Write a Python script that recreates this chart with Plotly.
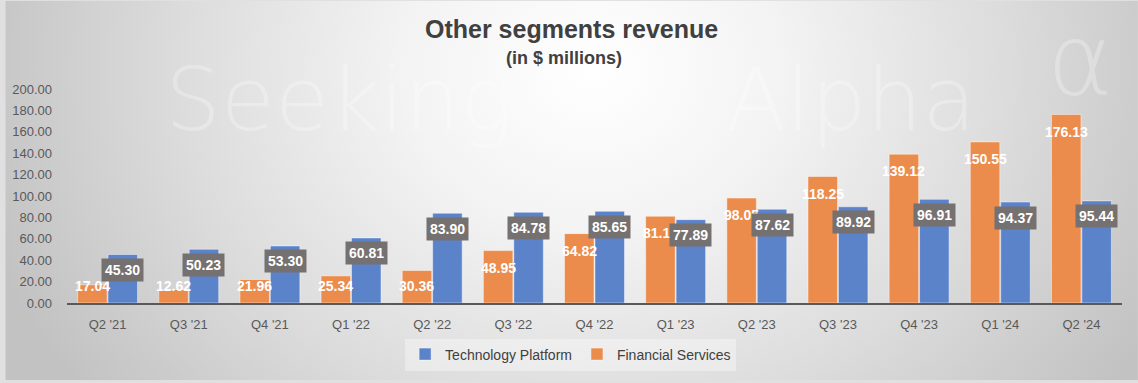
import base64
import plotly.graph_objects as go

quarters = ["Q2 '21", "Q3 '21", "Q4 '21", "Q1 '22", "Q2 '22", "Q3 '22", "Q4 '22",
            "Q1 '23", "Q2 '23", "Q3 '23", "Q4 '23", "Q1 '24", "Q2 '24"]
financial_services = [17.04, 12.62, 21.96, 25.34, 30.36, 48.95, 64.82,
                      81.10, 98.05, 118.25, 139.12, 150.55, 176.13]
technology_platform = [45.30, 50.23, 53.30, 60.81, 83.90, 84.78, 85.65,
                       77.89, 87.62, 89.92, 96.91, 94.37, 95.44]
y_ticks = [0, 20, 40, 60, 80, 100, 120, 140, 160, 180, 200]

ORANGE = "#EB8C4C"
BLUE = "#5B83CA"
W, H = 1138, 383
ML, MR, MT, MB = 62, 16, 89, 78
PW, PH = W - ML - MR, H - MT - MB
BARGAP, GROUPGAP = 0.25, 0.03
slot = (1 - BARGAP) / 2

svg = f'''<svg xmlns="http://www.w3.org/2000/svg" width="{W}" height="{H}" viewBox="0 0 {W} {H}">
<defs><radialGradient id="g" gradientUnits="userSpaceOnUse" cx="590" cy="70" r="640"
 gradientTransform="translate(590 70) scale(1 0.85) translate(-590 -70)">
<stop offset="0" stop-color="#ffffff"/><stop offset="0.3" stop-color="#f3f3f3"/>
<stop offset="0.65" stop-color="#dcdcdc"/><stop offset="1" stop-color="#c2c2c2"/></radialGradient></defs>
<rect width="{W}" height="{H}" fill="url(#g)"/></svg>'''
bg_src = "data:image/svg+xml;base64," + base64.b64encode(svg.encode()).decode()

fig = go.Figure()
fig.add_trace(go.Bar(name="Financial Services", x=quarters, y=financial_services,
                     marker=dict(color=ORANGE, line=dict(color="rgba(255,255,255,0.45)", width=1))))
fig.add_trace(go.Bar(name="Technology Platform", x=quarters, y=technology_platform,
                     marker=dict(color=BLUE, line=dict(color="rgba(255,255,255,0.45)", width=1))))


def px_x(px):
    return (px - ML) / PW


def px_y(py):
    return (H - MB - py) / PH


label_font = dict(family="Liberation Sans, Arial", size=14, color="white", weight="bold")
wm_color = "rgba(255,255,255,0.28)"
wm_font = dict(family="DejaVu Sans, Liberation Sans", size=88, color=wm_color, weight=300)

annotations = [
    dict(text="Seeking", x=px_x(335), y=px_y(100), xref="paper", yref="paper", showarrow=False,
         xanchor="center", yanchor="middle", font=wm_font),
    dict(text="Alpha", x=px_x(850), y=px_y(100), xref="paper", yref="paper", showarrow=False,
         xanchor="center", yanchor="middle", font=wm_font),
    dict(text="α", x=px_x(1080), y=px_y(60), xref="paper", yref="paper", showarrow=False,
         xanchor="center", yanchor="middle",
         font=dict(family="DejaVu Sans", size=100, color=wm_color, weight=300)),
]
for i, (fs, tp) in enumerate(zip(financial_services, technology_platform)):
    annotations.append(dict(x=i - slot / 2, y=max(fs - 16, 16), xref="x", yref="y",
                            text=f"{fs:.2f}", showarrow=False, yanchor="middle", font=label_font))
    annotations.append(dict(x=i + slot / 2, y=tp - 14.5, xref="x", yref="y",
                            text=f"{tp:.2f}", showarrow=False, yanchor="middle",
                            bgcolor="#767171", borderpad=3, font=label_font))
annotations += [
    dict(text="<b>Other segments revenue</b>", x=px_x(569), y=px_y(28), xref="paper", yref="paper",
         showarrow=False, xanchor="center", yanchor="middle",
         font=dict(family="Liberation Sans, Arial", size=25, color="#404040")),
    dict(text="<b>(in $ millions)</b>", x=px_x(561), y=px_y(58), xref="paper", yref="paper",
         showarrow=False, xanchor="center", yanchor="middle",
         font=dict(family="Liberation Sans, Arial", size=18, color="#404040")),
]

fig.update_layout(
    width=W, height=H,
    margin=dict(l=ML, r=MR, t=MT, b=MB, pad=0),
    barmode="group", bargap=BARGAP, bargroupgap=GROUPGAP,
    paper_bgcolor="#e0e0e0", plot_bgcolor="rgba(0,0,0,0)",
    font=dict(family="Liberation Sans, Arial", color="#595959", size=13),
    images=[dict(source=bg_src, xref="paper", yref="paper", x=-ML / PW, y=(PH + MT) / PH,
                 sizex=W / PW, sizey=H / PH, xanchor="left", yanchor="top",
                 sizing="stretch", layer="below")],
    annotations=annotations,
    showlegend=True,
    legend=dict(orientation="h", traceorder="reversed", x=px_x(568), y=px_y(357),
                xanchor="center", yanchor="middle", bgcolor="rgba(255,255,255,0.35)",
                font=dict(size=14, color="#404040"), itemwidth=30),
    xaxis=dict(showline=True, linecolor="#595959", linewidth=2, showgrid=False, ticks="",
               tickfont=dict(size=13, color="#595959"), ticklabelstandoff=8, fixedrange=True),
    yaxis=dict(range=[0, 200], tickvals=y_ticks, tickformat=".2f", showgrid=False,
               showline=False, zeroline=False, ticks="", ticklabelstandoff=14,
               tickfont=dict(size=13, color="#595959"), fixedrange=True),
)

fig.write_html("out.html", config={"displayModeBar": False},
               post_script="document.body.style.margin='0';document.body.style.overflow='hidden';")
